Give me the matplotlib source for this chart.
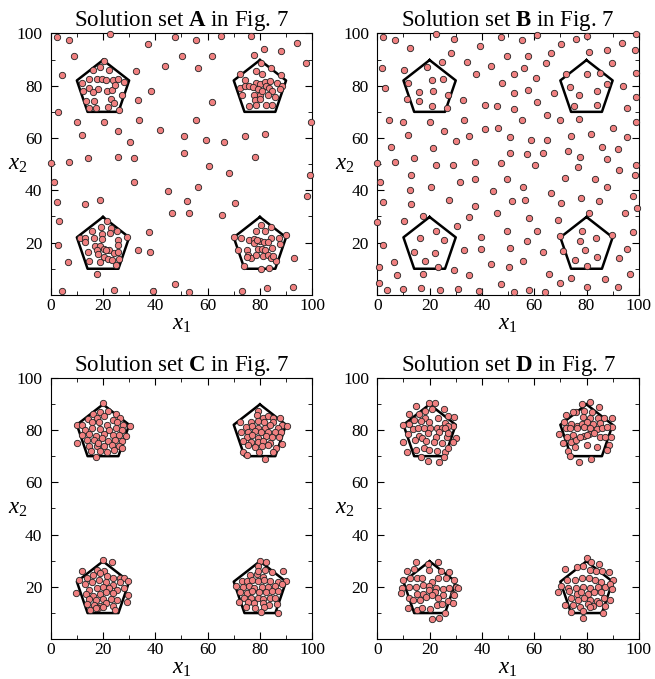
import numpy as np
import matplotlib
matplotlib.use("Agg")
import matplotlib.pyplot as plt

plt.rcParams.update({
    "font.family": "Liberation Serif",
    "mathtext.fontset": "custom",
    "mathtext.rm": "Liberation Serif",
    "mathtext.it": "Liberation Serif:italic",
    "mathtext.bf": "Liberation Serif:bold",
    "font.size": 12,
})

# decision-space points of each solution set (x1, x2)
set_a = [
    (2.3, 98.5), (7.1, 97.4), (22.8, 99.9), (8.8, 91.5), (4.2, 84.1), (37.2, 96.0), (47.7, 98.5),
    (50.1, 91.5), (55.7, 97.4), (61.7, 91.5), (65.1, 98.9), (56.5, 86.9), (43.6, 87.4), (32.6, 85.5),
    (38.2, 78.0), (33.3, 74.6), (76.5, 98.9), (77.6, 91.9), (81.6, 93.9), (88.1, 93.4), (94.2, 96.4),
    (97.6, 88.5), (61.6, 73.7), (2.7, 70.1), (10.2, 66.2), (20.3, 66.2), (33.6, 66.7), (25.6, 62.7),
    (12.1, 61.2), (41.7, 63.2), (55.7, 66.7), (51.0, 60.7), (59.3, 59.3), (66.2, 58.3), (30.2, 58.6),
    (74.4, 60.7), (81.8, 61.6), (99.6, 66.2), (51.1, 54.3), (14.1, 52.4), (25.7, 52.8), (32.0, 52.4),
    (78.0, 52.8), (0.0, 50.5), (7.1, 50.7), (60.4, 49.2),
    (1.1, 43.0), (2.3, 35.4), (3.2, 28.4), (2.7, 18.9), (6.6, 12.6), (4.2, 1.5), (13.3, 34.9),
    (18.7, 36.3), (32.0, 43.3), (37.6, 24.0), (33.3, 17.1), (38.1, 16.4), (24.2, 1.7), (39.1, 1.5),
    (44.7, 39.8), (46.3, 31.5), (52.1, 35.8), (53.0, 31.4), (56.2, 41.3), (68.2, 46.8), (70.6, 35.3),
    (65.6, 30.5), (47.5, 4.1), (52.8, 1.0), (73.2, 1.5), (82.6, 2.7), (92.5, 3.1), (93.2, 14.0),
    (90.1, 22.9), (98.0, 37.9), (99.0, 45.8), (73.8, 11.0),
    # near (20, 80)
    (20.3, 89.6), (16.2, 85.9), (19.0, 87.3), (22.2, 86.0), (14.8, 82.6), (17.6, 82.6), (19.5, 82.6),
    (21.2, 82.2), (23.7, 82.2), (25.8, 82.7), (28.2, 81.6), (11.9, 81.2), (14.7, 79.2), (18.0, 78.8),
    (12.5, 78.1), (16.2, 77.6), (21.5, 78.1), (23.6, 78.3), (24.7, 80.4), (27.2, 76.6), (22.9, 75.1),
    (24.1, 73.3), (21.8, 72.0), (13.4, 74.2), (16.4, 74.2), (14.5, 71.3), (17.2, 71.3), (26.1, 70.6),
    # near (80, 80)
    (80.4, 88.7), (78.4, 85.5), (80.8, 84.5), (84.1, 86.6), (88.1, 84.0), (72.5, 84.5), (74.2, 82.0),
    (78.4, 81.1), (80.1, 80.8), (82.1, 81.5), (84.0, 81.7), (86.6, 80.9), (88.3, 79.9), (72.3, 79.3),
    (74.3, 79.7), (75.7, 79.7), (77.4, 79.4), (79.2, 78.6), (82.3, 79.7), (83.5, 79.2), (84.5, 78.1),
    (87.7, 78.8), (73.3, 76.5), (77.6, 76.5), (79.9, 76.5), (80.7, 78.0), (83.0, 76.6), (85.7, 75.7),
    (78.0, 74.6), (79.9, 74.8), (78.4, 72.5), (75.7, 72.1), (82.2, 72.8), (84.6, 72.5),
    # near (20, 20)
    (11.1, 21.9), (13.3, 21.9), (13.3, 20.3), (15.7, 24.4), (16.7, 21.9), (19.1, 26.1), (21.5, 28.4),
    (22.9, 25.7), (25.2, 24.4), (22.6, 23.5), (19.6, 23.1), (17.0, 18.7), (18.9, 18.7), (20.5, 17.7),
    (17.7, 17.2), (14.3, 16.4), (18.0, 15.6), (20.3, 14.4), (22.1, 13.8), (22.4, 17.1), (24.2, 15.9),
    (25.6, 20.9), (25.6, 18.9), (25.7, 16.4), (26.3, 13.9), (23.5, 13.5), (14.8, 12.9), (18.7, 12.7),
    (25.0, 11.3), (29.3, 22.3), (17.6, 8.0), (19.5, 21.2), (21.2, 17.3),
    # near (80, 20)
    (70.2, 22.3), (72.7, 21.9), (71.6, 17.0), (75.1, 17.0), (75.5, 15.4), (76.6, 14.1), (75.1, 14.6),
    (76.0, 20.9), (77.8, 21.5), (77.8, 19.8), (78.5, 24.5), (80.6, 26.9), (82.0, 24.5), (84.1, 25.9),
    (84.3, 21.9), (87.2, 21.9), (87.8, 19.5), (79.9, 20.8), (81.6, 20.1), (83.2, 20.4), (79.2, 17.7),
    (80.7, 17.5), (82.0, 17.2), (84.5, 18.0), (78.4, 15.4), (81.1, 14.8), (83.2, 15.3), (84.4, 14.0),
    (86.2, 13.1), (80.6, 10.0), (83.6, 10.3), (85.0, 14.9), (78.9, 20.9),
]

set_b = [
    (2.0, 98.5), (6.7, 97.4), (22.4, 99.9), (29.4, 97.9), (12.5, 94.3), (28.1, 92.4), (39.3, 95.0),
    (47.2, 98.5), (55.3, 97.4), (61.1, 99.2), (70.2, 96.0), (76.1, 97.9), (80.0, 99.0), (93.5, 96.5),
    (99.0, 99.9), (98.6, 93.6), (87.7, 93.6), (81.0, 92.8), (66.3, 92.4), (57.8, 91.5), (49.7, 91.5),
    (34.4, 89.0), (24.9, 89.0), (19.0, 87.3), (1.9, 86.8), (10.3, 85.9), (43.4, 87.4), (56.2, 86.9),
    (64.4, 88.6), (89.6, 88.6), (99.1, 85.0), (85.0, 85.0), (80.0, 84.6), (72.3, 84.6), (37.8, 84.6),
    (52.3, 84.6), (60.6, 83.0), (20.9, 82.1), (25.3, 82.5), (11.6, 81.1), (3.1, 79.0), (47.7, 81.2),
    (57.8, 78.5), (52.3, 77.1), (67.7, 77.2), (73.7, 79.5), (87.9, 80.6), (94.1, 79.7), (99.1, 75.7),
    (15.9, 77.6), (21.4, 78.1), (27.0, 76.6), (11.3, 75.1), (15.9, 74.2), (77.2, 76.6), (84.2, 78.1),
    (32.8, 74.6), (41.3, 72.7), (45.7, 72.1), (52.3, 71.1), (61.2, 73.7), (64.8, 68.7), (21.1, 72.1),
    (26.8, 71.5), (75.1, 72.1), (84.2, 72.5), (95.5, 71.5), (4.5, 66.7), (9.9, 66.0), (20.0, 66.2),
    (33.3, 66.7), (55.2, 66.7), (69.8, 66.7), (77.2, 67.3), (99.1, 66.2), (90.1, 63.9), (11.8, 61.2),
    (25.4, 62.6), (35.2, 60.7), (41.3, 63.4), (46.2, 63.7), (50.8, 60.5), (58.9, 59.1), (64.8, 59.1),
    (74.0, 60.7), (81.7, 61.6), (95.5, 60.3), (5.3, 56.7), (21.4, 56.2), (30.0, 58.8), (50.8, 54.2),
    (57.1, 53.7), (63.5, 54.3), (72.8, 55.2), (77.5, 52.8), (86.1, 56.7), (92.0, 55.8), (0.0, 50.5),
    (6.9, 50.7), (13.9, 52.4), (22.4, 49.5), (29.0, 49.5), (37.4, 50.9), (47.3, 50.4), (60.2, 49.5),
    (76.7, 48.8), (87.7, 51.8), (99.1, 49.8),
    (1.0, 43.0), (2.0, 35.4), (0.0, 27.8), (2.3, 18.9), (0.8, 10.6), (0.8, 4.5), (3.9, 1.7),
    (6.4, 12.5), (7.5, 7.5), (9.9, 2.2), (13.0, 45.8), (12.5, 40.3), (13.0, 34.9), (10.3, 28.4),
    (20.4, 41.3), (17.4, 30.3), (22.4, 24.5), (16.4, 21.9), (25.4, 21.0), (13.9, 16.4), (21.9, 16.1),
    (18.4, 13.0), (17.3, 8.0), (23.3, 10.6), (16.8, 2.7), (23.9, 1.7), (27.4, 36.3), (31.7, 43.2),
    (37.3, 44.4), (37.3, 33.9), (30.4, 26.4), (34.9, 29.8), (33.0, 17.1), (39.8, 22.3), (39.6, 17.5),
    (29.4, 9.6), (34.9, 7.5), (30.9, 2.2), (38.8, 1.5), (44.3, 39.8), (45.8, 31.4), (49.6, 24.3),
    (50.9, 18.1), (43.3, 12.0), (50.4, 10.5), (47.3, 4.1), (52.3, 1.0), (49.6, 44.4), (55.7, 41.3),
    (51.7, 35.8), (56.6, 36.3), (57.9, 29.3), (57.1, 20.5), (55.7, 13.1), (57.9, 1.9), (61.2, 24.5),
    (63.5, 16.4), (64.1, 1.0), (66.5, 38.8), (70.2, 35.3), (69.1, 28.8), (71.9, 44.7), (65.8, 8.0),
    (69.7, 4.6), (74.0, 6.6), (78.0, 37.0), (80.8, 31.4), (84.6, 35.8), (88.0, 41.3), (83.2, 44.4),
    (92.6, 47.8), (98.5, 45.8), (97.7, 38.0), (94.7, 31.4), (99.5, 33.3), (97.6, 24.1), (89.7, 22.9),
    (95.5, 17.5), (92.4, 14.0), (96.6, 8.0), (92.0, 3.1), (87.2, 6.1), (80.0, 3.1), (70.0, 22.4),
    (71.1, 16.9), (75.7, 13.5), (78.1, 24.5), (77.6, 20.5), (83.6, 21.9), (79.6, 17.1), (84.2, 14.4),
    (80.2, 10.9),
]

set_c = [
    # near (20, 80)
    (20.1, 90.2), (16.1, 86.0), (18.9, 87.0), (22.0, 87.2), (24.8, 86.0), (14.4, 84.1), (17.6, 84.7),
    (20.5, 85.3), (23.9, 83.8), (26.5, 84.4), (10.2, 82.1), (12.1, 81.9), (15.7, 83.0), (18.6, 82.9),
    (21.7, 82.1), (25.2, 83.0), (27.5, 81.9), (30.3, 81.7), (13.1, 80.0), (15.9, 80.6), (18.9, 80.3),
    (22.4, 80.0), (25.0, 80.9), (27.1, 80.0), (11.8, 78.1), (14.8, 78.3), (17.3, 77.8), (20.5, 78.3),
    (24.0, 78.1), (26.1, 78.1), (28.8, 77.8), (14.0, 76.2), (16.7, 76.2), (19.5, 76.8), (22.0, 75.8),
    (24.6, 76.2), (27.1, 75.8), (10.2, 75.2), (14.8, 73.7), (17.6, 73.7), (20.4, 74.0), (23.3, 74.4),
    (26.1, 73.7), (15.3, 72.0), (18.9, 72.1), (21.4, 71.7), (24.3, 72.3), (27.1, 73.2), (17.3, 69.7),
    (18.2, 75.1),
    # near (80, 80)
    (79.2, 87.3), (78.8, 85.7), (81.1, 84.7), (83.2, 85.5), (85.1, 84.5), (87.7, 84.7), (76.6, 83.2),
    (79.1, 83.4), (81.6, 82.9), (85.1, 82.9), (88.3, 82.1), (90.2, 81.7), (72.4, 82.9), (74.6, 81.3),
    (76.8, 81.7), (79.4, 80.9), (81.9, 80.9), (83.9, 81.9), (87.1, 80.9), (72.9, 79.4), (75.6, 79.1),
    (78.1, 79.6), (80.4, 79.1), (83.2, 79.4), (85.7, 79.1), (88.1, 79.4), (75.0, 77.4), (77.1, 78.0),
    (79.4, 77.1), (82.2, 77.7), (84.8, 77.4), (87.3, 77.4), (73.7, 75.8), (76.6, 75.5), (79.1, 75.3),
    (81.3, 75.8), (83.9, 74.9), (88.6, 74.5), (75.6, 74.3), (78.1, 73.6), (80.7, 74.0), (83.2, 74.3),
    (86.0, 73.3), (73.7, 71.7), (75.0, 70.4), (79.7, 71.7), (85.1, 71.7), (82.0, 68.9),
    # near (20, 20)
    (20.1, 30.3), (23.3, 29.6), (11.8, 26.1), (17.6, 26.5), (20.4, 26.1), (10.9, 22.6), (13.8, 23.5),
    (16.3, 24.5), (18.9, 25.2), (21.4, 24.3), (23.7, 23.5), (26.5, 23.3), (28.0, 23.3), (13.1, 21.0),
    (15.7, 22.0), (18.6, 22.6), (21.2, 21.7), (23.9, 20.9), (26.5, 21.7), (29.7, 22.3), (14.8, 19.0),
    (17.6, 19.7), (20.1, 20.0), (22.4, 19.4), (25.2, 18.8), (28.0, 19.4), (9.7, 17.5), (13.5, 17.2),
    (16.1, 16.6), (18.9, 17.2), (21.2, 17.9), (24.0, 17.5), (29.7, 16.9), (14.8, 15.4), (17.3, 15.0),
    (19.9, 15.4), (22.9, 15.4), (25.2, 15.0), (29.1, 14.1), (13.8, 13.3), (16.6, 13.1), (18.9, 12.8),
    (21.2, 13.7), (23.9, 12.8), (15.0, 11.0), (18.2, 12.1), (20.1, 12.4), (24.6, 11.2), (17.3, 12.0),
    # near (80, 20)
    (80.0, 29.9), (82.2, 29.4), (79.1, 28.1), (81.9, 26.5), (84.8, 25.6), (89.0, 25.9), (76.2, 24.6),
    (78.8, 24.8), (81.3, 23.9), (79.1, 26.1), (73.0, 22.2), (74.9, 22.2), (77.1, 22.6), (79.4, 22.2),
    (81.7, 22.6), (83.9, 22.2), (86.8, 22.0), (89.9, 22.2), (70.7, 20.5), (73.6, 20.1), (75.8, 20.5),
    (77.9, 19.7), (80.7, 20.1), (83.2, 20.1), (85.8, 20.5), (88.3, 21.0), (72.4, 18.2), (74.9, 17.5),
    (77.1, 18.4), (79.7, 17.9), (82.2, 18.2), (84.8, 18.4), (87.1, 18.4), (74.1, 15.9), (76.6, 15.6),
    (79.1, 15.9), (81.3, 15.4), (83.9, 15.6), (85.8, 15.9), (72.0, 14.3), (75.3, 14.1), (77.9, 13.7),
    (81.0, 13.7), (83.5, 13.1), (86.4, 13.3), (74.6, 12.4), (78.1, 12.0), (81.7, 12.4), (80.4, 10.5),
    (86.8, 9.9),
]

set_d = [
    # near (20, 80)
    (19.9, 90.2), (22.0, 90.2), (14.8, 89.0), (18.3, 87.3), (20.9, 88.0), (25.6, 88.0), (12.0, 86.0),
    (16.0, 86.0), (18.3, 84.7), (23.4, 84.7), (26.9, 85.5), (29.4, 85.1), (10.0, 82.1), (12.0, 82.2),
    (14.1, 83.8), (16.7, 83.4), (19.6, 83.2), (26.0, 82.5), (28.8, 81.7), (13.5, 80.3), (15.4, 80.6),
    (18.0, 80.9), (20.1, 80.9), (22.7, 80.6), (24.7, 80.9), (26.9, 81.7), (11.6, 78.3), (16.0, 77.8),
    (19.2, 78.7), (23.7, 79.4), (26.0, 80.6), (30.0, 77.1), (14.5, 76.2), (17.1, 77.1), (22.4, 77.4),
    (26.6, 77.4), (26.9, 78.7), (10.0, 75.3), (18.6, 75.8), (21.8, 75.5), (24.7, 75.0), (28.8, 75.5),
    (14.8, 72.3), (18.0, 73.2), (19.9, 72.3), (23.0, 71.9), (26.0, 71.7), (27.2, 73.2), (11.2, 71.7),
    (16.7, 69.8), (19.2, 68.1), (23.7, 67.6), (25.6, 69.8),
    # near (80, 80)
    (78.4, 89.9), (81.3, 90.6), (84.7, 88.9), (75.8, 87.0), (79.0, 87.3), (82.2, 86.8), (72.0, 85.9),
    (74.9, 86.8), (78.8, 85.1), (81.3, 84.7), (84.4, 84.4), (86.7, 84.4), (89.8, 84.7), (71.4, 83.2),
    (74.0, 82.2), (76.2, 81.7), (78.4, 82.2), (80.3, 82.9), (82.6, 82.2), (85.1, 82.5), (89.8, 81.3),
    (72.0, 80.9), (73.6, 80.9), (76.2, 80.6), (79.0, 81.3), (81.3, 80.9), (83.9, 80.3), (86.0, 80.6),
    (87.9, 81.3), (69.5, 78.3), (72.4, 77.4), (74.9, 78.0), (79.0, 77.8), (80.9, 78.3), (82.8, 78.7),
    (85.1, 77.4), (87.2, 77.4), (89.4, 77.4), (71.1, 74.9), (74.2, 75.3), (75.8, 76.2), (77.7, 77.4),
    (80.0, 78.0), (72.9, 71.9), (75.5, 73.6), (80.3, 74.3), (84.1, 73.6), (88.5, 74.4), (87.9, 72.3),
    (77.1, 67.6), (81.6, 68.9), (73.7, 70.2),
    # near (20, 20)
    (14.8, 29.6), (19.2, 28.9), (23.4, 29.6), (11.2, 26.1), (14.1, 26.8), (19.9, 26.5), (24.3, 26.1),
    (27.5, 25.8), (9.9, 22.6), (12.5, 23.3), (15.0, 23.5), (17.1, 23.3), (20.9, 22.0), (23.4, 23.3),
    (26.2, 23.5), (29.4, 22.6), (9.4, 19.7), (12.0, 20.1), (14.8, 20.1), (17.3, 20.7), (19.9, 20.5),
    (22.4, 19.7), (25.0, 19.2), (27.5, 19.7), (30.0, 20.1), (9.0, 17.5), (12.2, 15.9), (15.0, 17.1),
    (17.6, 17.1), (19.6, 18.8), (22.2, 18.2), (25.2, 16.9), (28.8, 17.1), (30.7, 19.7), (13.8, 15.0),
    (16.3, 15.0), (18.6, 16.2), (21.1, 16.9), (23.4, 15.9), (26.9, 14.6), (29.4, 16.9), (11.6, 12.0),
    (15.0, 11.2), (17.1, 11.8), (20.1, 11.5), (23.0, 13.1), (24.9, 13.3), (28.8, 13.7), (20.9, 7.9),
    (23.7, 8.2), (26.0, 9.9),
    # near (80, 20)
    (80.0, 30.9), (81.8, 29.6), (84.7, 28.9), (71.6, 27.0), (76.2, 27.7), (78.8, 28.1), (81.3, 26.5),
    (83.5, 26.1), (86.0, 26.1), (88.6, 25.8), (72.7, 22.6), (75.5, 22.6), (78.4, 23.3), (80.9, 23.3),
    (83.1, 22.6), (85.4, 22.0), (90.2, 22.6), (70.4, 20.5), (72.9, 19.7), (75.8, 19.4), (78.8, 20.1),
    (81.3, 19.7), (84.4, 20.1), (86.9, 20.1), (88.9, 21.0), (69.1, 18.2), (73.3, 18.4), (76.2, 17.1),
    (77.8, 18.2), (80.6, 17.1), (82.8, 18.2), (85.6, 18.2), (89.9, 19.2), (74.2, 15.6), (76.7, 15.0),
    (79.0, 15.9), (81.3, 15.0), (83.9, 14.6), (86.7, 15.6), (89.0, 15.0), (71.6, 13.1), (74.9, 13.1),
    (77.7, 12.4), (80.5, 13.3), (82.5, 12.8), (84.7, 13.7), (86.9, 12.8), (74.2, 10.5), (78.8, 10.8),
    (81.3, 12.4), (86.4, 9.9), (78.8, 8.0),
]

set_names = ["A", "B", "C", "D"]
solution_sets = [set_a, set_b, set_c, set_d]

# Pareto-optimal regions: pentagons centred on these points
centres = [(20, 80), (80, 80), (20, 20), (80, 20)]
pentagon = np.array([(0, 9.8), (10, 2), (5.9, -10), (-5.9, -10), (-10, 2), (0, 9.8)])

fig = plt.figure(figsize=(6.55, 6.79), dpi=100)
W, H = 655, 679
boxes = [(50.7, 33.4), (377.3, 33.4), (50.7, 377.7), (377.3, 377.7)]
size = 261.5

for name, pts, (left, top) in zip(set_names, solution_sets, boxes):
    ax = fig.add_axes([left / W, (H - top - size) / H, size / W, size / H])
    for cx, cy in centres:
        ax.plot(pentagon[:, 0] + cx, pentagon[:, 1] + cy, color="black", lw=1.8, zorder=2)
    pts = np.array(pts)
    ax.scatter(pts[:, 0], pts[:, 1], s=21, facecolor="#f08080", edgecolor="#222222",
               linewidths=0.6, zorder=3, clip_on=False)
    ax.set_xlim(0, 100)
    ax.set_ylim(0, 100)
    ax.set_xticks(np.arange(0, 101, 20))
    ax.set_yticks(np.arange(20, 101, 20))
    ax.set_xticks(np.arange(0, 101, 10), minor=True)
    ax.set_yticks(np.arange(0, 101, 10), minor=True)
    ax.tick_params(which="both", direction="in", top=True, right=True, labelsize=12.5)
    ax.tick_params(which="major", length=5)
    ax.tick_params(which="minor", length=3)
    ax.tick_params(axis="x", pad=2)
    ax.tick_params(axis="y", pad=6)
    ax.set_title("Solution set $\\mathbf{%s}$ in Fig. 7" % name, fontsize=16.5, pad=3)
    ax.set_xlabel("$x_1$", fontsize=16.5, labelpad=0)
    ax.set_ylabel("$x_2$", fontsize=16.5, rotation=0, va="center")
    ax.yaxis.set_label_coords(-0.125, 0.5)

fig.savefig("out.png", dpi=100)
